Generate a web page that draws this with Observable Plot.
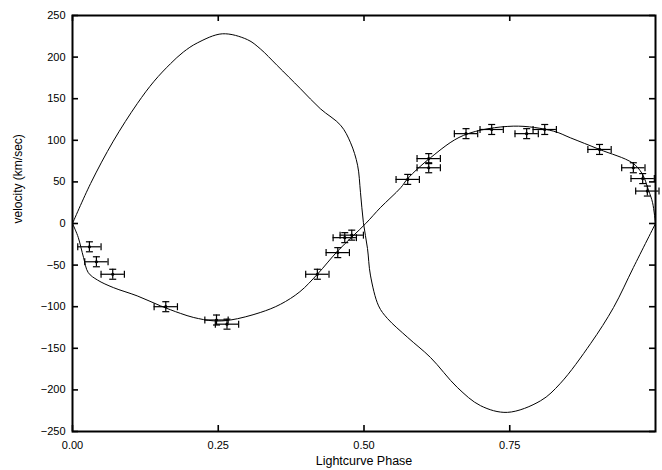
<!DOCTYPE html>
<html><head><meta charset="utf-8">
<script src="https://cdn.jsdelivr.net/npm/d3@7"></script>
<script src="https://cdn.jsdelivr.net/npm/@observablehq/plot@0.6"></script>
<style>body{margin:0;background:#fff;font-family:"Liberation Sans",Arial,Helvetica,sans-serif}</style>
</head><body><div id="chart"></div>
<script>
// Observed radial velocities
const obsPhase    = [0.029, 0.041, 0.069, 0.160, 0.247, 0.265, 0.420, 0.455, 0.467, 0.479, 0.575, 0.611, 0.611, 0.675, 0.719, 0.779, 0.810, 0.904, 0.962, 0.978, 0.986];
const obsVelocity = [-28, -46, -61, -100, -116, -121, -61, -35, -17, -14, 53, 78, 67, 108, 113, 108, 113, 89, 67, 54, 39];
const obsPhaseErr = [0.02, 0.02, 0.02, 0.02, 0.02, 0.02, 0.02, 0.02, 0.02, 0.02, 0.02, 0.02, 0.02, 0.02, 0.02, 0.02, 0.02, 0.02, 0.02, 0.02, 0.02];
const obsVelErr   = [6, 6, 6, 6, 6, 6, 6, 6, 6, 6, 6, 6, 6, 6, 6, 6, 6, 6, 6, 6, 6];

// Model curve: primary (fits the data)
const primaryPhase = [0, 0.005, 0.010, 0.019, 0.027, 0.043, 0.070, 0.111, 0.151, 0.185, 0.208, 0.242, 0.271, 0.322, 0.357, 0.390, 0.420, 0.455, 0.503, 0.528, 0.563, 0.575, 0.614, 0.671, 0.756, 0.825, 0.854, 0.904, 0.960, 0.977, 0.988, 0.995, 1.0];
const primaryVel   = [0, -8, -17, -41, -59, -68, -77, -87, -99, -108, -113, -117, -116, -107, -97, -82, -61, -33, 0, 19, 43, 54, 79, 106, 117, 111, 103, 89, 73, 60, 40, 25, 0];

// Model curve: companion
const companionPhase = [0, 0.031, 0.070, 0.111, 0.140, 0.168, 0.190, 0.214, 0.257, 0.300, 0.322, 0.351, 0.391, 0.425, 0.460, 0.477, 0.489, 0.494, 0.499, 0.506, 0.511, 0.525, 0.540, 0.575, 0.614, 0.660, 0.700, 0.746, 0.803, 0.837, 0.889, 0.928, 0.962, 1.0];
const companionVel   = [0, 48, 99, 144, 171, 192, 206, 217, 228, 221, 210, 190, 162, 138, 118, 97, 70, 37, 1, -30, -62, -99, -114, -137, -161, -197, -219, -227, -213, -192, -144, -101, -53, 0];

const xTicks = [0, 0.25, 0.5, 0.75];
const yTicks = [-250, -200, -150, -100, -50, 0, 50, 100, 150, 200, 250];

const obs = obsPhase.map((p, i) => ({
  x: p, y: obsVelocity[i],
  x1: p - obsPhaseErr[i], x2: p + obsPhaseErr[i],
  y1: obsVelocity[i] - obsVelErr[i], y2: obsVelocity[i] + obsVelErr[i]
}));
const primary = primaryPhase.map((p, i) => ({x: p, y: primaryVel[i]}));
const companion = companionPhase.map((p, i) => ({x: p, y: companionVel[i]}));

const W = 662, H = 470, mL = 72, mR = 7, mT = 15, mB = 39;
const iW = W - mL - mR, iH = H - mT - mB, tk = 6;

const vCap = {draw(ctx, size) { const r = Math.sqrt(size / Math.PI); ctx.moveTo(0, -r); ctx.lineTo(0, r); }};
const hCap = {draw(ctx, size) { const r = Math.sqrt(size / Math.PI); ctx.moveTo(-r, 0); ctx.lineTo(r, 0); }};

const chart = Plot.plot({
  width: W, height: H,
  marginLeft: mL, marginRight: mR, marginTop: mT, marginBottom: mB,
  style: {fontFamily: '"Liberation Sans", Arial, Helvetica, sans-serif', fontSize: "11px", background: "#fff", color: "black"},
  x: {domain: [0, 1]},
  y: {domain: [-250, 250]},
  marks: [
    Plot.axisX(xTicks, {tickSize: 0, tickPadding: 10, tickFormat: d3.format(".2f"), label: null, fontSize: 11}),
    Plot.axisY(yTicks, {tickSize: 0, tickPadding: 7, label: null, fontSize: 11}),
    // inward ticks on all four sides
    Plot.tickX(xTicks, {x: d => d, insetTop: iH - tk, stroke: "black", strokeWidth: 1.6}),
    Plot.tickX(xTicks, {x: d => d, insetBottom: iH - tk, stroke: "black", strokeWidth: 1.6}),
    Plot.tickY(yTicks, {y: d => d, insetRight: iW - tk, stroke: "black", strokeWidth: 1.6}),
    Plot.tickY(yTicks, {y: d => d, insetLeft: iW - tk, stroke: "black", strokeWidth: 1.6}),
    Plot.line(companion, {x: "x", y: "y", curve: "catmull-rom", stroke: "black", strokeWidth: 1}),
    Plot.line(primary, {x: "x", y: "y", curve: "catmull-rom", stroke: "black", strokeWidth: 1}),
    Plot.ruleY(obs, {y: "y", x1: "x1", x2: "x2", stroke: "black", strokeWidth: 1.2}),
    Plot.ruleX(obs, {x: "x", y1: "y1", y2: "y2", stroke: "black", strokeWidth: 1.2}),
    Plot.dot(obs, {x: "x1", y: "y", symbol: vCap, r: 3.5, fill: "none", stroke: "black", strokeWidth: 1.2}),
    Plot.dot(obs, {x: "x2", y: "y", symbol: vCap, r: 3.5, fill: "none", stroke: "black", strokeWidth: 1.2}),
    Plot.dot(obs, {x: "x", y: "y1", symbol: hCap, r: 3.5, fill: "none", stroke: "black", strokeWidth: 1.2}),
    Plot.dot(obs, {x: "x", y: "y2", symbol: hCap, r: 3.5, fill: "none", stroke: "black", strokeWidth: 1.2}),
    Plot.dot(obs, {x: "x", y: "y", r: 1.6, fill: "black", stroke: "none"}),
    Plot.frame({stroke: "black", strokeWidth: 2}),
    Plot.text(["Lightcurve Phase"], {frameAnchor: "bottom", dy: 33, fontSize: 12.5, fill: "black"}),
    Plot.text(["velocity (km/sec)"], {frameAnchor: "left", dx: -54, rotate: -90, fontSize: 12, fill: "black"})
  ]
});
document.getElementById("chart").appendChild(chart);
</script>
</body></html>
